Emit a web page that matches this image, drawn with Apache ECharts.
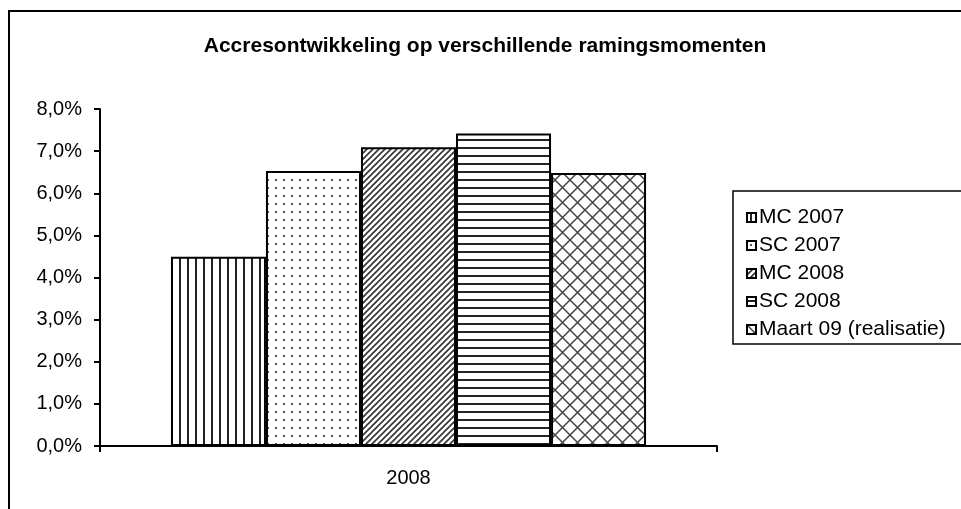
<!DOCTYPE html>
<html>
<head>
<meta charset="utf-8">
<script src="https://cdn.jsdelivr.net/npm/echarts@6/dist/echarts.min.js"></script>
<style>
html,body{margin:0;padding:0;background:#fff;}
#chart{width:961px;height:509px;}
</style>
</head>
<body>
<div id="chart"></div>
<script>
const title = 'Accresontwikkeling op verschillende ramingsmomenten';
const categories = ['2008'];
const seriesNames = ['MC 2007', 'SC 2007', 'MC 2008', 'SC 2008', 'Maart 09 (realisatie)'];
const mc2007 = [4.49];
const sc2007 = [6.53];
const mc2008 = [7.09];
const sc2008 = [7.42];
const maart09 = [6.48];
const yTicks = [0, 1, 2, 3, 4, 5, 6, 7, 8];

function tile(w, h, draw) {
  const c = document.createElement('canvas');
  c.width = w; c.height = h;
  const ctx = c.getContext('2d');
  ctx.fillStyle = '#fff';
  ctx.fillRect(0, 0, w, h);
  draw(ctx, w, h);
  return c;
}
const patVert = tile(8, 8, (ctx) => { ctx.fillStyle = '#222'; ctx.fillRect(3, 0, 2, 8); });
const patDots = tile(8, 8, (ctx) => { ctx.fillStyle = '#555'; ctx.fillRect(3, 3, 2, 2); });
const patDiag = tile(6, 6, (ctx) => {
  ctx.strokeStyle = '#333'; ctx.lineWidth = 1.6;
  ctx.beginPath();
  ctx.moveTo(-1, 7); ctx.lineTo(7, -1);
  ctx.moveTo(-1, 1); ctx.lineTo(1, -1);
  ctx.moveTo(5, 7); ctx.lineTo(7, 5);
  ctx.stroke();
});
const patHorz = tile(8, 8, (ctx) => { ctx.fillStyle = '#222'; ctx.fillRect(0, 3, 8, 2); });
const patCross = tile(15, 15, (ctx) => {
  ctx.strokeStyle = '#444'; ctx.lineWidth = 1.5;
  ctx.beginPath();
  ctx.moveTo(0, 0); ctx.lineTo(15, 15);
  ctx.moveTo(15, 0); ctx.lineTo(0, 15);
  ctx.stroke();
});
const patterns = [patVert, patDots, patDiag, patHorz, patCross];
const values = [mc2007, sc2007, mc2008, sc2008, maart09];

const chart = echarts.init(document.getElementById('chart'), null, {renderer: 'canvas'});
const font = 'Arial, "Liberation Sans", sans-serif';

chart.setOption({
  animation: false,
  backgroundColor: '#fff',
  title: {
    text: title,
    left: 480, top: 31, textAlign: 'center',
    textStyle: {fontFamily: font, fontSize: 21, fontWeight: 'bold', color: '#000'}
  },
  graphic: [
    {type: 'rect', shape: {x: 9, y: 11, width: 1000, height: 600}, style: {fill: 'none', stroke: '#000', lineWidth: 2}, z: 0},
    {type: 'rect', shape: {x: 733, y: 191, width: 240, height: 153}, style: {fill: '#fff', stroke: '#000', lineWidth: 1.5}, z: 0}
  ],
  legend: {
    orient: 'vertical',
    left: 741, top: 202,
    itemWidth: 9, itemHeight: 9, itemGap: 7,
    icon: 'rect',
    textStyle: {fontFamily: font, fontSize: 21, color: '#000', padding: [0, 0, 0, -2]},
    data: seriesNames
  },
  grid: {left: 100, right: 244, top: 109, bottom: 63},
  xAxis: {
    type: 'category',
    data: categories,
    axisLine: {lineStyle: {color: '#000', width: 2}},
    axisTick: {show: true, length: 6, lineStyle: {color: '#000', width: 2}},
    axisLabel: {fontFamily: font, fontSize: 20, color: '#000', margin: 22}
  },
  yAxis: {
    type: 'value',
    min: yTicks[0], max: yTicks[yTicks.length - 1], interval: 1,
    axisLine: {show: true, lineStyle: {color: '#000', width: 2}},
    axisTick: {show: true, length: 6, lineStyle: {color: '#000', width: 2}},
    splitLine: {show: false},
    axisLabel: {
      fontFamily: font, fontSize: 20, color: '#000', margin: 18,
      formatter: v => v.toFixed(1).replace('.', ',') + '%'
    }
  },
  series: seriesNames.map((name, i) => ({
    name: name,
    type: 'bar',
    data: values[i],
    barGap: '0%',
    barCategoryGap: '23%',
    itemStyle: {
      color: {image: patterns[i], repeat: 'repeat'},
      borderColor: '#000',
      borderWidth: 2
    }
  }))
});
</script>
</body>
</html>
